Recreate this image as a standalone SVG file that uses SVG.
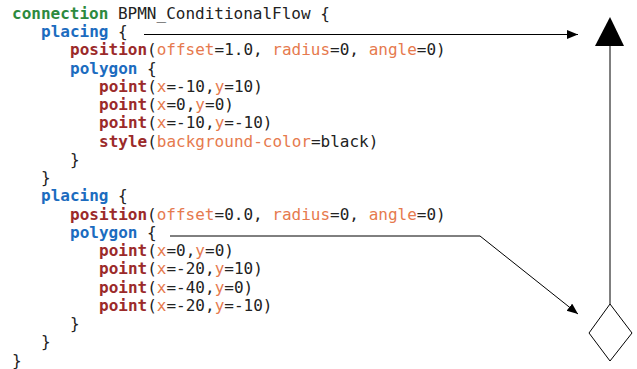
<svg xmlns="http://www.w3.org/2000/svg" width="637" height="369" viewBox="0 0 637 369">
<style>
text{font-family:"DejaVu Sans Mono","Liberation Mono",monospace;font-size:16px;fill:#222;white-space:pre}
.k{fill:#2d8a3e;font-weight:bold}
.b{fill:#1c6cbf;font-weight:bold}
.r{fill:#9b2a2a;font-weight:bold}
.o{fill:#e67a4e}
.ln{fill:none;stroke:#000;stroke-width:1}
</style>
<defs>
<marker id="ah" markerUnits="userSpaceOnUse" markerWidth="12" markerHeight="10" refX="11" refY="4.5" orient="auto">
<path d="M0,0 L11,4.5 L0,9 Z" fill="#000"/>
</marker>
</defs>
<rect width="637" height="369" fill="#fff"/>
<g id="code">
<text x="12" y="18.7"><tspan class="k">connection</tspan> BPMN_ConditionalFlow {</text>
<text x="41" y="37"><tspan class="b">placing</tspan> {</text>
<text x="70" y="55.2"><tspan class="r">position</tspan>(<tspan class="o">offset</tspan>=1.0, <tspan class="o">radius</tspan>=0, <tspan class="o">angle</tspan>=0)</text>
<text x="70" y="73.5"><tspan class="b">polygon</tspan> {</text>
<text x="99" y="91.7"><tspan class="r">point</tspan>(<tspan class="o">x</tspan>=-10,<tspan class="o">y</tspan>=10)</text>
<text x="99" y="110"><tspan class="r">point</tspan>(<tspan class="o">x</tspan>=0,<tspan class="o">y</tspan>=0)</text>
<text x="99" y="128.2"><tspan class="r">point</tspan>(<tspan class="o">x</tspan>=-10,<tspan class="o">y</tspan>=-10)</text>
<text x="99" y="146.5"><tspan class="r">style</tspan>(<tspan class="o">background-color</tspan>=black)</text>
<text x="70" y="164.7">}</text>
<text x="41" y="183">}</text>
<text x="41" y="201.2"><tspan class="b">placing</tspan> {</text>
<text x="70" y="219.5"><tspan class="r">position</tspan>(<tspan class="o">offset</tspan>=0.0, <tspan class="o">radius</tspan>=0, <tspan class="o">angle</tspan>=0)</text>
<text x="70" y="237.7"><tspan class="b">polygon</tspan> {</text>
<text x="99" y="256"><tspan class="r">point</tspan>(<tspan class="o">x</tspan>=0,<tspan class="o">y</tspan>=0)</text>
<text x="99" y="274.2"><tspan class="r">point</tspan>(<tspan class="o">x</tspan>=-20,<tspan class="o">y</tspan>=10)</text>
<text x="99" y="292.5"><tspan class="r">point</tspan>(<tspan class="o">x</tspan>=-40,<tspan class="o">y</tspan>=0)</text>
<text x="99" y="310.7"><tspan class="r">point</tspan>(<tspan class="o">x</tspan>=-20,<tspan class="o">y</tspan>=-10)</text>
<text x="70" y="329">}</text>
<text x="41" y="347.2">}</text>
<text x="12" y="365.5">}</text>
</g>
<g id="triangle">
<polygon points="610,17 624,46 595,46" fill="#000"/>
</g>
<g id="diamond">
<polygon points="610,304 632,333 610,361 589,333" fill="#fff" stroke="#000" stroke-width="1"/>
</g>
<g id="connectors">
<line class="ln" x1="144" y1="34.5" x2="578" y2="34.5" marker-end="url(#ah)"/>
<polyline class="ln" points="170,236 480,236 578,314" marker-end="url(#ah)"/>
<line class="ln" x1="610" y1="46" x2="610" y2="304"/>
</g>
</svg>
